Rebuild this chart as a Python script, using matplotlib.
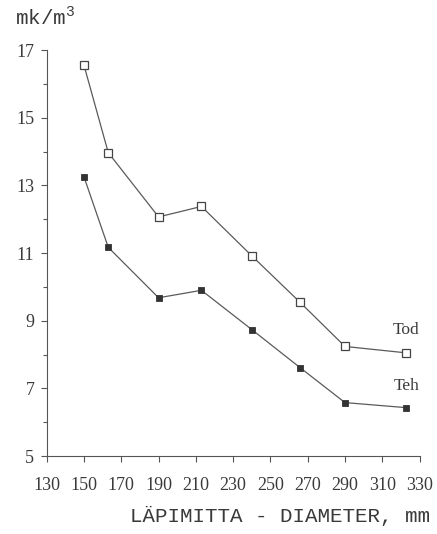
import matplotlib.pyplot as plt
from matplotlib.ticker import MultipleLocator

# Diameter classes (mm) and unit costs (mk/m3)
diameter = [150, 163, 190, 213, 240, 266, 290, 323]
tod = [16.55, 13.97, 12.07, 12.38, 10.92, 9.54, 8.24, 8.05]
teh = [13.25, 11.17, 9.68, 9.90, 8.74, 7.61, 6.58, 6.43]

x_ticks = list(range(130, 331, 20))
y_ticks = list(range(5, 18, 2))

plt.rcParams['mathtext.fontset'] = 'custom'
plt.rcParams['mathtext.rm'] = 'Liberation Mono'

serif = 'Liberation Serif'
mono = 'Liberation Mono'
ink = '#3a3a3a'

fig = plt.figure(figsize=(4.37, 5.34), dpi=100)
ax = fig.add_axes([0.107, 0.146, 0.853, 0.760])

ax.plot(diameter, tod, color='#5a5a5a', lw=0.9, marker='s', ms=5.5,
        mfc='white', mec='#444444', mew=0.9)
ax.plot(diameter, teh, color='#5a5a5a', lw=0.9, marker='s', ms=4.5,
        mfc='#333333', mec='#333333', mew=0.6)

ax.text(323, 8.72, 'Tod', family=serif, fontsize=12.5, color=ink, ha='center', va='center')
ax.text(323, 7.07, 'Teh', family=serif, fontsize=12.5, color=ink, ha='center', va='center')

ax.set_xlim(130, 330)
ax.set_ylim(5, 17)
ax.set_xticks(x_ticks)
ax.set_yticks(y_ticks)
ax.yaxis.set_minor_locator(MultipleLocator(1))
for lab in ax.get_xticklabels() + ax.get_yticklabels():
    lab.set_family(serif)
    lab.set_fontsize(13)
    lab.set_color(ink)

ax.tick_params(which='major', direction='out', length=4, width=0.8, color='#555555')
ax.tick_params(which='minor', direction='out', length=3, width=0.8, color='#555555')
ax.tick_params(axis='x', pad=11)
ax.tick_params(axis='y', pad=5)

for side in ['top', 'right']:
    ax.spines[side].set_visible(False)
for side in ['left', 'bottom']:
    ax.spines[side].set_color('#555555')
    ax.spines[side].set_linewidth(0.8)

fig.text(0.985, 0.034, 'LÄPIMITTA - DIAMETER, mm', family=mono, fontsize=15,
         color=ink, ha='right', va='center')
fig.text(0.035, 0.953, 'mk/m$^3$', family=mono, fontsize=15, color=ink,
         ha='left', va='baseline')

fig.savefig('out.png', dpi=100)
